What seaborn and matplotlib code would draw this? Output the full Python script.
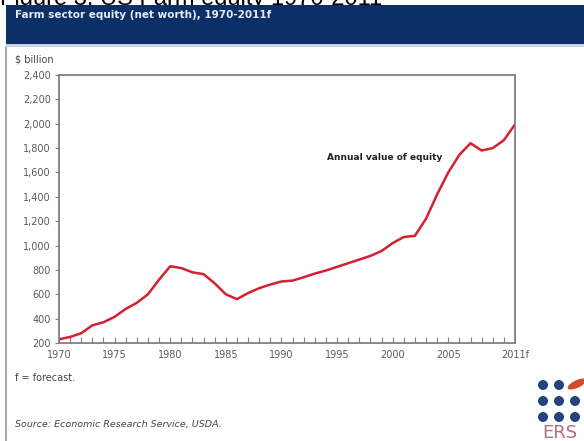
import matplotlib
matplotlib.use("Agg")
import matplotlib.pyplot as plt
import matplotlib.patches as patches
from matplotlib.ticker import FuncFormatter, MultipleLocator
import seaborn as sns
import pandas as pd

# --- data ($ billion) ---
years = list(range(1970, 2012))
equity = [230, 250, 280, 345, 370, 415, 480, 530, 600, 720,
          830, 815, 780, 765, 690, 600, 560, 610, 650, 680,
          705, 712, 740, 770, 795, 825, 855, 885, 915, 955,
          1020, 1070, 1080, 1220, 1420, 1600, 1745, 1840, 1780, 1800,
          1865, 1995]
major_years = [1970, 1975, 1980, 1985, 1990, 1995, 2000, 2005, 2011]
major_labels = ["1970", "1975", "1980", "1985", "1990", "1995", "2000", "2005", "2011f"]

df = pd.DataFrame({"year": years, "equity": equity})

W, H = 584, 441
sns.set_style("white")
plt.rcParams["font.family"] = ["DejaVu Sans"]

fig = plt.figure(figsize=(W / 100, H / 100), dpi=100)
fig.patch.set_facecolor("white")


def fx(px):
    return px / W


def fy(py):
    return 1 - py / H


# cropped page heading above the banner (only its bottom shows)
fig.text(fx(0), fy(5), "Figure 3. US Farm equity 1970-2011", fontsize=17,
         family="Liberation Sans", color="black", va="baseline", ha="left", zorder=0.5)

# dark blue banner with title
fig.patches.append(patches.Rectangle((fx(6), fy(44)), 1 - fx(6), fy(5) - fy(44),
                                     transform=fig.transFigure, facecolor="#0b2f66",
                                     edgecolor="none", zorder=1))
fig.patches.append(patches.Rectangle((fx(6), fy(47)), 1 - fx(6), fy(44) - fy(47),
                                     transform=fig.transFigure, facecolor="#c9d3e2",
                                     edgecolor="none", zorder=1))
fig.text(fx(15), fy(15), "Farm sector equity (net worth), 1970-2011f", fontsize=7.5,
         color="#e4ebf6", fontweight="bold", va="center", ha="left", zorder=3)

# left frame line
fig.add_artist(plt.Line2D([fx(6), fx(6)], [fy(47), 0], transform=fig.transFigure,
                          color="#9a9a9a", linewidth=1.2))

ax = fig.add_axes([fx(59), fy(343), fx(515) - fx(59), fy(75) - fy(343)])
sns.lineplot(data=df, x="year", y="equity", ax=ax, color="#d42030", linewidth=1.8)

ax.set_xlim(1970, 2011)
ax.set_ylim(200, 2400)
ax.yaxis.set_major_locator(MultipleLocator(200))
ax.yaxis.set_major_formatter(FuncFormatter(lambda v, p: f"{int(v):,}"))
ax.set_xticks(major_years)
ax.set_xticklabels(major_labels)
ax.xaxis.set_minor_locator(MultipleLocator(1))
ax.set_xlabel("")
ax.set_ylabel("")

for s in ax.spines.values():
    s.set_color("#808080")
    s.set_linewidth(1.3)
    s.set_visible(True)

ax.tick_params(axis="y", which="major", direction="out", length=3, width=0.8,
               color="#808080", labelsize=7, labelcolor="#5a5a5a", pad=3, left=True)
ax.tick_params(axis="x", which="both", direction="in", length=4, width=0.8,
               color="#808080", labelsize=7, labelcolor="#5a5a5a", pad=5, bottom=True)

ax.text(1994.1, 1720, "Annual value of equity", fontsize=6.5, fontweight="bold",
        color="#222222", ha="left", va="center")

fig.text(fx(15), fy(60), "$ billion", fontsize=7, color="#444444", va="center")
fig.text(fx(15), fy(378), "f = forecast.", fontsize=7, color="#444444", va="center")
fig.text(fx(15), fy(425), "Source: Economic Research Service, USDA.", fontsize=6.8,
         color="#444444", va="center", style="italic")

# ERS logo
for cx in (543, 559, 575):
    for cy in (385, 401, 417):
        if cx == 575 and cy == 385:
            continue
        fig.patches.append(patches.Ellipse((fx(cx), fy(cy)), 10 / W, 10 / H,
                                           transform=fig.transFigure,
                                           facecolor="#24437c", edgecolor="none"))
fig.patches.append(patches.Ellipse((fx(577), fy(384)), 22 / W, 7 / H, angle=35,
                                   transform=fig.transFigure,
                                   facecolor="#d24a2a", edgecolor="none"))
fig.text(fx(560), fy(433), "ERS", fontsize=13, color="#b0727a", ha="center",
         va="center")

fig.savefig("out.png", dpi=100)
